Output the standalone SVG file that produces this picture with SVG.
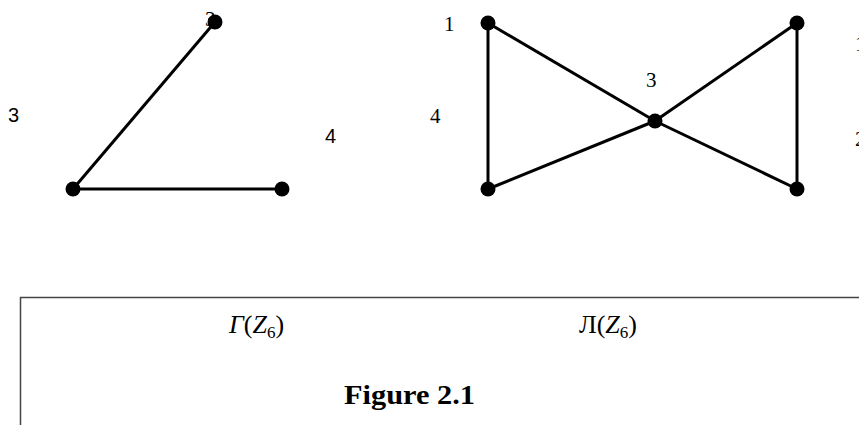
<svg xmlns="http://www.w3.org/2000/svg" width="859" height="425" viewBox="0 0 859 425">
<style>
.e{stroke:#000;stroke-width:3;fill:none}
.n{fill:#000}
.s{font-family:"Liberation Serif",serif;font-size:21px;fill:#000}
.ss{font-family:"Liberation Sans",sans-serif;font-size:20px;fill:#000}
.m{font-family:"Liberation Serif",serif;font-size:26px;fill:#000}
.b{font-family:"Liberation Serif",serif;font-size:27px;font-weight:bold;fill:#000}
</style>
<rect width="859" height="425" fill="#fff"/>
<g id="labels">
<text class="ss" x="8" y="122">3</text>
<text class="s" x="205" y="26">3</text>
<text class="ss" x="325" y="143">4</text>
<text class="s" x="444" y="31">1</text>
<text class="s" x="430" y="123">4</text>
<text class="s" x="646" y="87">3</text>
<text class="s" x="855" y="51">1</text>
<text class="s" x="855" y="146">2</text>
</g>
<g id="connectors">
<line class="e" x1="215" y1="22" x2="73" y2="189"/>
<line class="e" x1="73" y1="189" x2="282" y2="189"/>
<line class="e" x1="488" y1="23" x2="488" y2="189"/>
<line class="e" x1="488" y1="23" x2="655" y2="121"/>
<line class="e" x1="655" y1="121" x2="797" y2="23"/>
<line class="e" x1="797" y1="23" x2="797" y2="189"/>
<line class="e" x1="488" y1="189" x2="655" y2="121"/>
<line class="e" x1="655" y1="121" x2="797" y2="189"/>
</g>
<g id="n1"><circle class="n" cx="215" cy="22" r="7.5"/></g>
<g id="n2"><circle class="n" cx="73" cy="189" r="7.5"/></g>
<g id="n3"><circle class="n" cx="282" cy="189" r="7.5"/></g>
<g id="n4"><circle class="n" cx="488" cy="23" r="7.5"/></g>
<g id="n5"><circle class="n" cx="797" cy="23" r="7.5"/></g>
<g id="n6"><circle class="n" cx="655" cy="121" r="7.5"/></g>
<g id="n7"><circle class="n" cx="488" cy="189" r="7.5"/></g>
<g id="n8"><circle class="n" cx="797" cy="189" r="7.5"/></g>
<g id="caption">
<path d="M20.5 425 V297.5 H859" stroke="#444" stroke-width="1.5" fill="none"/>
<text class="m" x="229" y="333"><tspan font-style="italic">Γ</tspan>(<tspan font-style="italic">Z</tspan><tspan font-size="17" dy="5">6</tspan><tspan dy="-5">)</tspan></text>
<text class="m" x="579" y="333">Л(<tspan font-style="italic">Z</tspan><tspan font-size="17" dy="5">6</tspan><tspan dy="-5">)</tspan></text>
<text class="b" x="344" y="404" textLength="131" lengthAdjust="spacingAndGlyphs">Figure 2.1</text>
</g>
</svg>
